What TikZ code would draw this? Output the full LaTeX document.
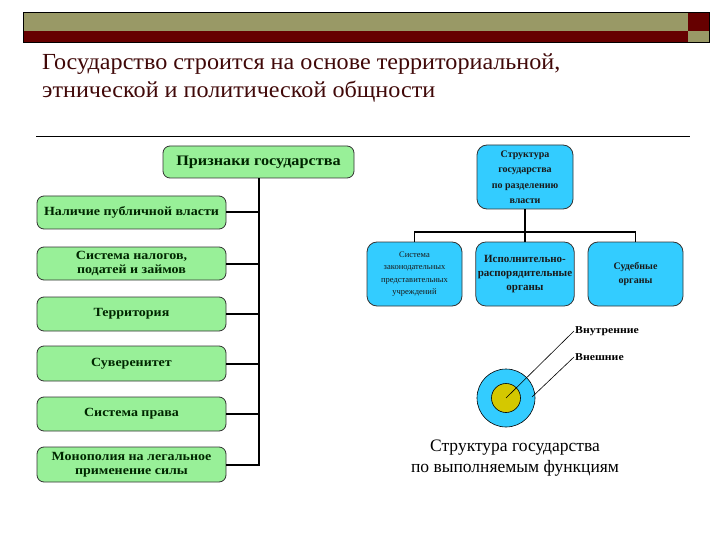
\documentclass[tikz,border=0pt]{standalone}
\usepackage{fontspec}
\setmainfont{Liberation Serif}
\newfontfamily\widefont[FakeStretch=1.12]{Liberation Serif}
\newfontfamily\titlefont[FakeStretch=1.05]{Liberation Serif}
\definecolor{olive}{RGB}{153,153,102}
\definecolor{darkred}{RGB}{102,0,0}
\definecolor{titlered}{RGB}{64,8,8}
\definecolor{gfill}{RGB}{152,240,152}
\definecolor{bfill}{RGB}{51,204,255}
\definecolor{yfill}{RGB}{212,200,0}
\tikzset{
  gbox/.style={draw=black!80, line width=0.8pt, fill=gfill, rounded corners=7pt, align=center, inner sep=2pt, font=\widefont\fontsize{12.5}{13.5}\selectfont\bfseries, text=black!85!green},
  bbox/.style={draw=black!80, line width=0.8pt, fill=bfill, rounded corners=10pt, align=center, inner sep=2pt, text=black!90},
  conn/.style={line width=2pt, black},
  bconn/.style={line width=1.6pt, black},
  thin/.style={line width=0.6pt, black}
}
\begin{document}
\begin{tikzpicture}[x=1pt,y=-1pt]
\useasboundingbox (0,0) rectangle (720,540);
\fill[white] (0,0) rectangle (720,540);
% top bar
\fill[olive] (23,12) rectangle (688,31);
\fill[darkred] (23,31) rectangle (688,42);
\fill[darkred] (688,12) rectangle (709,31);
\fill[olive] (688,31) rectangle (709,42);
\draw[line width=0.5pt, black] (23,12) rectangle (709,42);
% title
\node[anchor=base west, align=left, text=titlered, font=\titlefont\fontsize{23}{28}\selectfont, inner sep=0pt] (title) at (42,98)
  {Государство строится на основе территориальной,\\этнической и политической общности};
\draw[line width=1pt] (36,137) -- (690,137);
% green part
\node[gbox, minimum width=191pt, minimum height=32pt, font=\widefont\fontsize{14.5}{16}\selectfont\bfseries] (pr) at (258.5,162) {Признаки государства};
\node[gbox, minimum width=189pt, minimum height=33pt] (g1) at (131.5,212.5) {Наличие публичной власти};
\node[gbox, minimum width=189pt, minimum height=33pt] (g2) at (131.5,263.5) {Система налогов,\\податей и займов};
\node[gbox, minimum width=189pt, minimum height=34pt] (g3) at (131.5,314) {Территория};
\node[gbox, minimum width=189pt, minimum height=35pt] (g4) at (131.5,363.5) {Суверенитет};
\node[gbox, minimum width=189pt, minimum height=34pt] (g5) at (131.5,414) {Система права};
\node[gbox, minimum width=189pt, minimum height=35pt] (g6) at (131.5,464.5) {Монополия на легальное\\применение силы};
\draw[conn] (pr.south) -- (pr.south |- g6.east) -- (g6.east);
\foreach \n in {g1,g2,g3,g4,g5} \draw[conn] (\n.east) -- (\n.east -| pr.south);
% blue part
\node[bbox, minimum width=96pt, minimum height=64pt, font=\fontsize{10}{15.5}\selectfont\bfseries] (st) at (525,177) {Структура\\государства\\по разделению\\власти};
\node[bbox, minimum width=95pt, minimum height=64pt, font=\fontsize{8.5}{12.5}\selectfont] (b1) at (414.5,274) {Система\\законодательных\\представительных\\учреждений};
\node[bbox, minimum width=96pt, minimum height=64pt, font=\fontsize{11}{14}\selectfont\bfseries] (b2) at (525,274) {Исполнительно-\\распорядительные\\органы};
\node[bbox, minimum width=95pt, minimum height=64pt, font=\fontsize{10}{14}\selectfont\bfseries] (b3) at (635.5,274) {Судебные\\органы};
\coordinate (bus) at (525,232);
\draw[bconn] (st.south) -- (bus);
\draw[bconn] (b1.north) -- (b1.north |- bus) -- (b3.north |- bus) -- (b3.north);
\draw[bconn] (b2.north) -- (b2.north |- bus);
% circles
\node[circle, draw=black, line width=0.6pt, fill=bfill, minimum size=58pt, inner sep=0pt] (outer) at (506,398) {};
\node[circle, draw=black, line width=0.6pt, fill=yfill, minimum size=29pt, inner sep=0pt] (inner) at (506,398) {};
\node[anchor=west, inner sep=1pt, font=\widefont\fontsize{10.5}{12}\selectfont\bfseries] (vn) at (574,331) {Внутренние};
\node[anchor=west, inner sep=1pt, font=\widefont\fontsize{10.5}{12}\selectfont\bfseries] (ve) at (574,357) {Внешние};
\coordinate (ring) at (532,397);
\draw[thin] (inner.center) -- (vn.west);
\draw[thin] (ring) -- (ve.west);
\node[align=center, font=\fontsize{17.5}{21}\selectfont, inner sep=0pt] (cap) at (515,458) {Структура государства\\по выполняемым функциям};
\end{tikzpicture}
\end{document}
